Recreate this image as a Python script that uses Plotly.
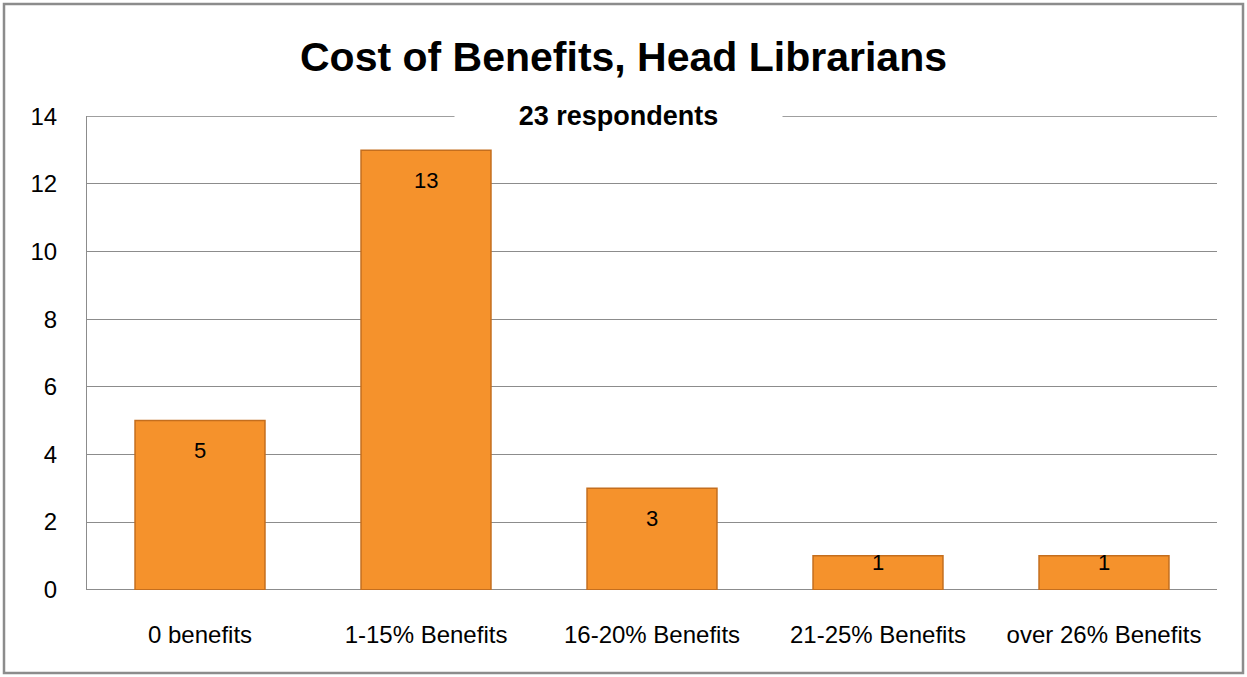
import plotly.graph_objects as go

categories = ["0 benefits", "1-15% Benefits", "16-20% Benefits", "21-25% Benefits", "over 26% Benefits"]
values = [5, 13, 3, 1, 1]
y_ticks = [0, 2, 4, 6, 8, 10, 12, 14]

title_text = "Cost of Benefits, Head Librarians"
subtitle_text = "23 respondents"

FONT = "Liberation Sans, Arial, sans-serif"
W, H = 1247, 677
ML, MR, MT, MB = 87, 30, 116, 87
plot_h = H - MT - MB
ymax = y_ticks[-1]

fig = go.Figure()
fig.add_trace(go.Bar(
    x=categories, y=values,
    marker=dict(color="#F5922C", line=dict(color="#C46E1E", width=1.5)),
    hoverinfo="skip",
))

# data labels inside the top of each bar
for c, v in zip(categories, values):
    h_px = v * plot_h / ymax
    shift = -min(30, h_px - 27)
    fig.add_annotation(x=c, y=v, text=str(v), showarrow=False, yshift=shift,
                       font=dict(family=FONT, size=22, color="black"))

# top gridline (at the range edge)
fig.add_shape(type="line", xref="paper", yref="y", x0=0, x1=1, y0=ymax, y1=ymax,
              line=dict(color="#8C8C8C", width=1), layer="below")

# subtitle on the top gridline
fig.add_annotation(xref="paper", yref="y", x=0.47, y=ymax, text="<b>" + subtitle_text + "</b>",
                   showarrow=False, bgcolor="white", width=325, height=32,
                   font=dict(family=FONT, size=27, color="black"))

# chart border
pw = W - ML - MR
fig.add_shape(type="rect", xref="paper", yref="paper",
              x0=(4 - ML) / pw, x1=(W - 4 - ML) / pw,
              y0=-(H - 4 - MT - plot_h) / plot_h, y1=1 + (MT - 4) / plot_h,
              line=dict(color="#8C8C8C", width=2.5), layer="below")

fig.update_layout(
    width=W, height=H,
    margin=dict(l=ML, r=MR, t=MT, b=MB),
    paper_bgcolor="white", plot_bgcolor="white",
    title=dict(text="<b>" + title_text + "</b>", x=0.5, xref="container", xanchor="center",
               y=1 - 57 / H, yanchor="middle", yref="container",
               font=dict(family=FONT, size=41, color="black")),
    bargap=0.425,
    showlegend=False,
    xaxis=dict(showgrid=False, showline=False, zeroline=False, ticks="",
               tickfont=dict(family=FONT, size=24, color="black"), ticklabelstandoff=28),
    yaxis=dict(range=[-0.01, ymax + 0.01], tickvals=y_ticks, showgrid=True, gridcolor="#8C8C8C",
               gridwidth=1, showline=True, linecolor="#8C8C8C", linewidth=1,
               zeroline=True, zerolinecolor="#8C8C8C", zerolinewidth=1,
               ticks="", tickfont=dict(family=FONT, size=24, color="black"), ticklabelstandoff=24),
)

fig.write_html("out.html", config={"displayModeBar": False},
               post_script="document.body.style.margin='0';document.body.style.padding='0';")
